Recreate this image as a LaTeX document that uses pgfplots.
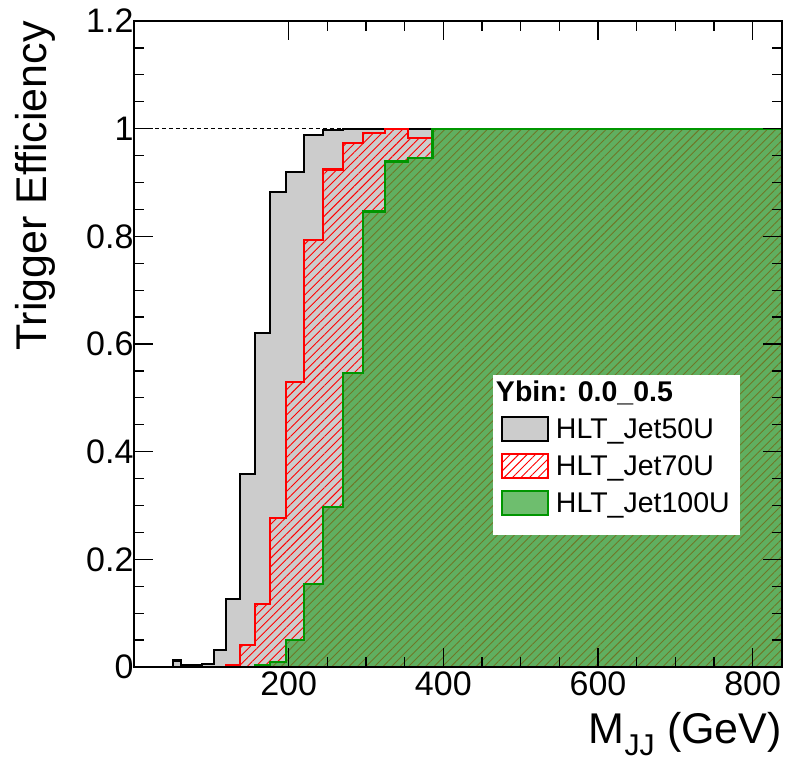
\documentclass[border=0pt]{standalone}
\usepackage{fontspec}
\setmainfont{Liberation Sans}
\usepackage{pgfplots}
\pgfplotsset{compat=1.18}
\usetikzlibrary{patterns,patterns.meta}

\definecolor{histgray}{RGB}{204,204,204}
\definecolor{hred}{RGB}{255,0,0}
\definecolor{hgreen}{RGB}{0,150,0}
\definecolor{hgreenfill}{RGB}{55,165,55}

\begin{document}
\begin{tikzpicture}
\useasboundingbox (-134pt,-94pt) rectangle (653pt,667pt);
\begin{axis}[
  at={(0pt,0pt)}, anchor=south west,
  scale only axis, width=648pt, height=646pt,
  xmin=0, xmax=838, ymin=0, ymax=1.2,
  xtick={200,400,600,800}, minor x tick num=3,
  ytick={0,0.2,0.4,0.6,0.8,1,1.2}, minor y tick num=3,
  tick align=inside, tick pos=both,
  major tick length=19pt, minor tick length=10pt,
  every tick/.style={black, line width=1.2pt},
  axis line style={black, line width=1.6pt},
  axis on top=true,
  /pgf/number format/assume math mode=true,
  ticklabel style={font=\fontsize{34}{40}\selectfont},
  xticklabel style={yshift=-1pt},
  yticklabel style={xshift=3pt},
  xlabel={M$_{\mathrm{JJ}}$ (GeV)},
  ylabel={Trigger Efficiency},
  label style={font=\fontsize{43}{50}\selectfont},
  xlabel style={at={(axis description cs:1,-0.070)}, anchor=north east, inner sep=0pt},
  ylabel style={at={(axis description cs:-0.184,1)}, anchor=north east, inner sep=0pt},
  legend style={at={(rel axis cs:0.554,0.455)}, anchor=north west, draw=none, fill=none,
    font=\fontsize{28.5}{34}\selectfont, row sep=11pt, column sep=5pt, inner xsep=8pt, inner ysep=6pt},
  legend cell align=left,
  legend image code/.code={\draw[#1, line width=1.8pt] (0pt,-12pt) rectangle (46pt,12pt);},
]
\addplot[forget plot, black, line width=0.8pt, dash pattern=on 4pt off 3pt] coordinates {(0,1) (838,1)};

\addlegendimage{empty legend}
\addlegendentry{\hspace*{-60pt}\textbf{Ybin: 0.0\_0.5}}

\addplot[const plot, draw=black, line width=2.2pt, fill=histgray] coordinates {
(1,0) (3,0) (6,0) (10,0) (16,0) (23,0) (31,0) (40,0) (50,0.012) (61,0.004) (74,0.004)
(88,0.005) (103,0.032) (119,0.126) (137,0.359) (156,0.620) (176,0.882) (197,0.919)
(220,0.988) (244,0.997) (270,0.999) (296,1) (325,1) (354,1) (386,1) (419,1) (453,1)
(489,1) (526,1) (565,1) (606,1) (649,1) (693,1) (740,1) (788,1) (838,1)
} \closedcycle;
\addlegendentry{HLT\_Jet50U}

\addplot[const plot, draw=hred, line width=2.2pt, pattern={Lines[angle=45,distance=6pt,line width=0.9pt]}, pattern color=hred] coordinates {
(1,0) (3,0) (6,0) (10,0) (16,0) (23,0) (31,0) (40,0) (50,0) (61,0) (74,0)
(88,0) (103,0) (119,0.004) (137,0.041) (156,0.117) (176,0.277) (197,0.530)
(220,0.793) (244,0.924) (270,0.973) (296,0.992) (325,1) (354,0.982) (386,1) (419,1) (453,1)
(489,1) (526,1) (565,1) (606,1) (649,1) (693,1) (740,1) (788,1) (838,1)
} \closedcycle;
\addlegendentry{HLT\_Jet70U}

\addplot[const plot, draw=hgreen, line width=2.2pt, fill=hgreenfill, fill opacity=0.72] coordinates {
(1,0) (3,0) (6,0) (10,0) (16,0) (23,0) (31,0) (40,0) (50,0) (61,0) (74,0)
(88,0) (103,0) (119,0) (137,0) (156,0.004) (176,0.010) (197,0.050)
(220,0.154) (244,0.297) (270,0.546) (296,0.846) (325,0.939) (354,0.945) (386,1) (419,1) (453,1)
(489,1) (526,1) (565,1) (606,1) (649,1) (693,1) (740,1) (788,1) (838,1)
} \closedcycle;
\addlegendentry{HLT\_Jet100U}

\fill[white] (rel axis cs:0.554,0.452) rectangle (rel axis cs:0.935,0.204);
\end{axis}
\end{tikzpicture}
\end{document}
